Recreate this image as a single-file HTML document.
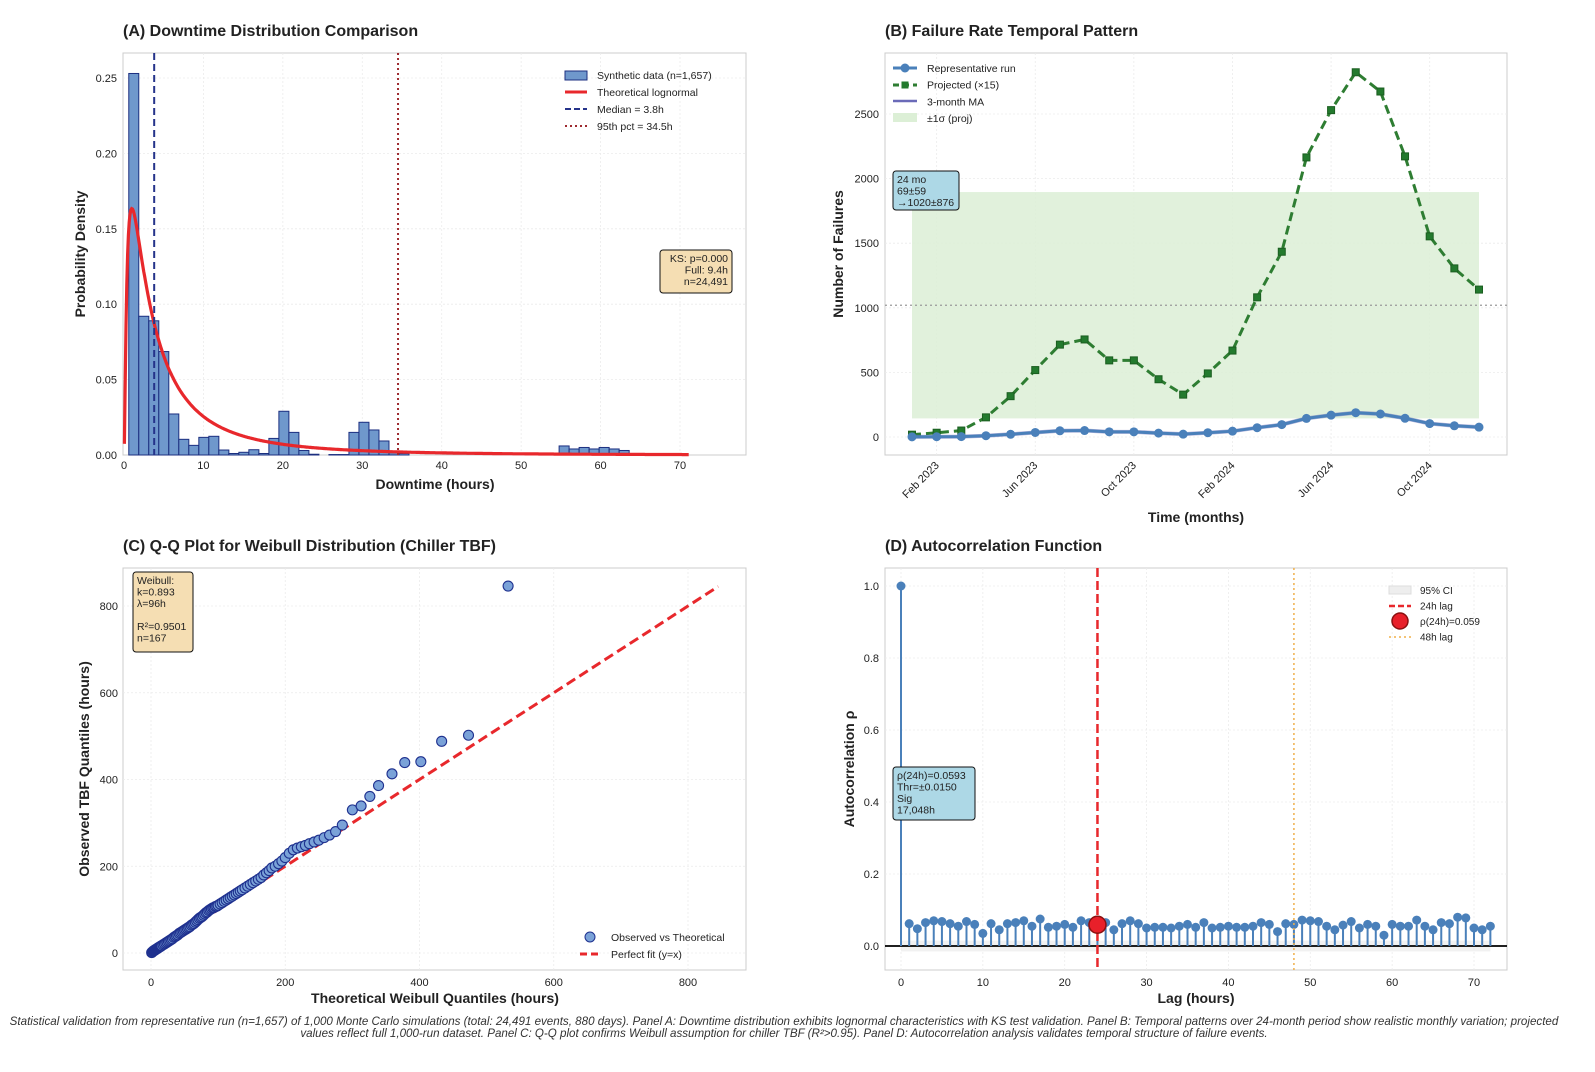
<!DOCTYPE html>
<html><head><meta charset="utf-8"><style>
body{margin:0;background:#fff;width:1595px;height:1067px;overflow:hidden;font-family:"Liberation Sans",sans-serif}
svg text{font-family:"Liberation Sans","DejaVu Sans",sans-serif}
</style></head><body>
<svg id="fig" width="1595" height="1067" viewBox="0 0 1595 1067" xmlns="http://www.w3.org/2000/svg">
<text x="784" y="1025" text-anchor="middle" font-size="11.6" font-style="italic" fill="#333">Statistical validation from representative run (n=1,657) of 1,000 Monte Carlo simulations (total: 24,491 events, 880 days). Panel A: Downtime distribution exhibits lognormal characteristics with KS test validation. Panel B: Temporal patterns over 24-month period show realistic monthly variation; projected</text>
<text x="784" y="1037" text-anchor="middle" font-size="11.6" font-style="italic" fill="#333">values reflect full 1,000-run dataset. Panel C: Q-Q plot confirms Weibull assumption for chiller TBF (R²&gt;0.95). Panel D: Autocorrelation analysis validates temporal structure of failure events.</text>
</svg>
<script>
// ---------- DATA ----------
const histStart = 0.6, histWidth = 1.26;
const histHeights = [0.253,0.092,0.089,0.0686,0.0272,0.0104,0.0064,0.0117,0.0124,0.0033,0.001,0.0018,0.0035,0.001,0.011,0.029,0.015,0.003,0.0005,0,0.0003,0.0003,0.015,0.0217,0.0166,0.0093,0.0015,0.001,0,0,0,0,0,0,0,0,0,0,0,0,0,0,0,0.006,0.004,0.005,0.004,0.005,0.004,0.003];
const lognormMu = 1.43, lognormSigma = 1.2;
const medianHours = 3.8, p95Hours = 34.5;

const monthLabels = ["Feb 2023","Jun 2023","Oct 2023","Feb 2024","Jun 2024","Oct 2024"];
const monthLabelIdx = [1,5,9,13,17,21];
const repRun = [1.2,2.2,3.3,10,21,35,48,50,40,40,30,22,33,45,72,96,144,169,188,178,145,104,87,76];
const projected = [18,33,50,152,316,518,715,755,593,593,447,328,492,669,1081,1434,2164,2530,2823,2674,2172,1553,1305,1141];
const projMean = 1020, projSd = 876;

const qqTheo = [1,2,3,4,5,6,7,8,9,10,11,12,13,14,15,16,18,20,22,24,26,28,30,32,34,36,38,40,42,44,46,48,50,52,54,56,58,60,62,64,66,68,70,72,74,76,78,80,82,84,86,88,90,92,94,96,98,100,103,106,109,112,115,118,121,124,127,130,133,136,140,144,148,152,156,160,164,168,172,176,180,185,190,195,200,206,212,218,224,230,236,243,250,258,266,275,285,300,313,326,339,359,378,402,433,473,532];
const qqObs  = [1,2,4,5,6,7,8,9,10,11,12,13,14,15,16,17,19,21,23,25,27,29,31,33,36,38,40,42,45,47,49,51,53,55,57,59,61,64,66,68,71,74,77,80,82,84,87,90,93,95,98,100,102,104,105,107,108,110,113,116,119,122,125,128,131,134,137,140,143,146,150,154,158,162,166,170,174,180,185,190,196,200,206,212,220,230,238,242,245,248,252,256,260,266,272,280,295,330,339,361,386,413,439,441,488,502,846];

const acfVals = [1.0,0.062,0.048,0.065,0.07,0.068,0.062,0.055,0.068,0.06,0.035,0.062,0.045,0.062,0.065,0.07,0.055,0.075,0.052,0.055,0.06,0.052,0.07,0.065,0.059,0.065,0.045,0.062,0.07,0.062,0.05,0.052,0.052,0.05,0.055,0.06,0.052,0.065,0.05,0.052,0.055,0.052,0.052,0.055,0.065,0.06,0.04,0.062,0.06,0.072,0.07,0.068,0.055,0.045,0.058,0.068,0.05,0.06,0.055,0.03,0.06,0.055,0.055,0.072,0.055,0.045,0.065,0.062,0.08,0.078,0.05,0.045,0.055];
const acfCI = 0.015, lagMark1 = 24, lagMark2 = 48;

// ---------- HELPERS ----------
const NS="http://www.w3.org/2000/svg";
const svg=document.getElementById('fig');
function mk(tag,attrs,parent){const e=document.createElementNS(NS,tag);for(const k in attrs)e.setAttribute(k,attrs[k]);(parent||svg).appendChild(e);return e;}
function txt(s,attrs,parent){const e=mk('text',attrs,parent);e.textContent=s;return e;}
function lin(d0,d1,r0,r1){return v=>r0+(v-d0)/(d1-d0)*(r1-r0);}

function axesFrame(name,x0,y0,x1,y1){
  const g=mk('g',{});
  
  
  const r=mk('rect',{x:x0,y:y0,width:x1-x0,height:y1-y0,fill:'#fff',stroke:'#cccccc','stroke-width':1},g);
  
  
  return g;
}
function gridX(g,xs,X,y0,y1){xs.forEach(v=>{const l=mk('line',{x1:X(v),x2:X(v),y1:y0,y2:y1,stroke:'#ebebeb','stroke-width':0.8,'stroke-dasharray':'2,2'},g);});}
function gridY(g,ys,Y,x0,x1){ys.forEach(v=>{const l=mk('line',{x1:x0,x2:x1,y1:Y(v),y2:Y(v),stroke:'#ebebeb','stroke-width':0.8,'stroke-dasharray':'2,2'},g);});}
function tickLabelsX(g,vals,X,y,fmt){vals.forEach(v=>{const t=txt(fmt(v),{x:X(v),y:y,'text-anchor':'middle','font-size':11,fill:'#222'},g);});}
function tickLabelsY(g,vals,Y,x,fmt){vals.forEach(v=>{const t=txt(fmt(v),{x:x,y:Y(v)+4,'text-anchor':'end','font-size':11,fill:'#222'},g);});}
function title(s,x,y,name){const t=txt(s,{x:x,y:y,'font-size':16,'font-weight':'bold',fill:'#222'});}
function xTitle(s,x,y,name){const t=txt(s,{x:x,y:y,'text-anchor':'middle','font-size':14,'font-weight':'bold',fill:'#222'});}
function yTitle(s,x,y,name){const t=txt(s,{x:x,y:y,'text-anchor':'middle','font-size':14,'font-weight':'bold',fill:'#222',transform:`rotate(-90 ${x} ${y})`});}
function infoBox(name,x,y,w,h,fill,lines,anchor){
  const g=mk('g',{});
  
  
  mk('rect',{x:x,y:y,width:w,height:h,rx:3,fill:fill,stroke:'#111','stroke-width':1},g);
  lines.forEach((s,i)=>{txt(s,{x:anchor==='end'?x+w-4:x+4,y:y+12+i*11.5,'font-size':10.5,fill:'#222','text-anchor':anchor||'start'},g);});
}

// ---------- PANEL A ----------
(function(){
  const x0=123,x1=746,y0=53,y1=455;
  const X=lin(0,70,124,680), Y=lin(0,0.25,455,78);
  const g=axesFrame('panel-a-axes',x0,y0,x1,y1);
  gridX(g,[10,20,30,40,50,60,70],X,y0,y1);
  gridY(g,[0.05,0.1,0.15,0.2,0.25],Y,x0,x1);
  histHeights.forEach((h,i)=>{
    if(h<=0)return;
    const l=histStart+i*histWidth;
    const r=mk('rect',{x:X(l),y:Y(h),width:X(l+histWidth)-X(l),height:Y(0)-Y(h),fill:'#6f98cc',stroke:'#1c2f80','stroke-width':1},g);
    
    
  });
  let d='';
  for(let k=0;k<=700;k++){const xv=0.05+k*0.1015;const pdf=Math.exp(-Math.pow(Math.log(xv)-lognormMu,2)/(2*lognormSigma*lognormSigma))/(xv*lognormSigma*Math.sqrt(2*Math.PI));d+=(k?'L':'M')+X(xv).toFixed(1)+','+Math.max(Y(pdf),y0).toFixed(1);}
  const c=mk('path',{d:d,fill:'none',stroke:'#e8282c','stroke-width':3.2},g);
  
  
  const m=mk('line',{x1:X(medianHours),x2:X(medianHours),y1:y0,y2:y1,stroke:'#25338a','stroke-width':2,'stroke-dasharray':'7,4'},g);
  
  
  const p=mk('line',{x1:X(p95Hours),x2:X(p95Hours),y1:y0,y2:y1,stroke:'#9e2a2f','stroke-width':2,'stroke-dasharray':'2,3'},g);
  
  
  tickLabelsX(g,[0,10,20,30,40,50,60,70],X,469,v=>v);
  tickLabelsY(g,[0,0.05,0.1,0.15,0.2,0.25],Y,117,v=>v.toFixed(2));
  const lg=mk('g',{});
  
  
  mk('rect',{x:565,y:71,width:22,height:9,fill:'#6f98cc',stroke:'#1c2f80'},lg);
  mk('line',{x1:565,x2:587,y1:92,y2:92,stroke:'#e8282c','stroke-width':3},lg);
  mk('line',{x1:565,x2:587,y1:109,y2:109,stroke:'#25338a','stroke-width':2,'stroke-dasharray':'6,3'},lg);
  mk('line',{x1:565,x2:587,y1:126,y2:126,stroke:'#9e2a2f','stroke-width':2,'stroke-dasharray':'2,3'},lg);
  ['Synthetic data (n=1,657)','Theoretical lognormal','Median = 3.8h','95th pct = 34.5h'].forEach((s,i)=>txt(s,{x:597,y:79+i*17,'font-size':10.5,fill:'#222'},lg));
  infoBox('ks-stats-box',660,250,72,43,'#f5deb3',['KS: p=0.000','Full: 9.4h','n=24,491'],'end');
})();
title('(A) Downtime Distribution Comparison',123,36,'panel-a-title');
xTitle('Downtime (hours)',435,489,'panel-a-x-title');
yTitle('Probability Density',85,254,'panel-a-y-title');

// ---------- PANEL B ----------
(function(){
  const x0=885,x1=1507,y0=53,y1=455;
  const X=lin(0,23,912,1479), Y=lin(0,2500,437,114);
  const g=axesFrame('panel-b-axes',x0,y0,x1,y1);
  gridX(g,monthLabelIdx,X,y0,y1);
  gridY(g,[0,500,1000,1500,2000,2500],Y,x0,x1);
  const b=mk('rect',{x:X(0),y:Y(projMean+projSd),width:X(23)-X(0),height:Y(projMean-projSd)-Y(projMean+projSd),fill:'#dcefd6',opacity:0.85},g);
  
  
  const ml=mk('line',{x1:x0,x2:x1,y1:Y(projMean),y2:Y(projMean),stroke:'#999','stroke-width':1.3,'stroke-dasharray':'2,3'},g);
  
  
  const pp=mk('path',{d:projected.map((v,i)=>(i?'L':'M')+X(i)+','+Y(v)).join(''),fill:'none',stroke:'#2e7d32','stroke-width':3,'stroke-dasharray':'9,5'},g);
  
  
  projected.forEach((v,i)=>{const s=mk('rect',{x:X(i)-3.5,y:Y(v)-3.5,width:7,height:7,fill:'#237a2e',stroke:'#1b5e20'},g);});
  const ma=mk('path',{d:repRun.map((v,i)=>(i?'L':'M')+X(i)+','+Y(v)).join(''),fill:'none',stroke:'#6a6ab8','stroke-width':4,opacity:0.5},g);
  
  
  const rp=mk('path',{d:repRun.map((v,i)=>(i?'L':'M')+X(i)+','+Y(v)).join(''),fill:'none',stroke:'#4a80ba','stroke-width':3},g);
  
  
  repRun.forEach((v,i)=>{const c=mk('circle',{cx:X(i),cy:Y(v),r:4.5,fill:'#4a80ba'},g);});
  tickLabelsY(g,[0,500,1000,1500,2000,2500],Y,879,v=>v);
  monthLabelIdx.forEach((idx,k)=>{const t=txt(monthLabels[k],{x:X(idx)+3,y:466,'text-anchor':'end','font-size':11,fill:'#222',transform:`rotate(-45 ${X(idx)+3} 466)`},g);});
  const lg=mk('g',{});
  
  
  mk('line',{x1:893,x2:917,y1:68,y2:68,stroke:'#4a80ba','stroke-width':3},lg);mk('circle',{cx:905,cy:68,r:4.5,fill:'#4a80ba'},lg);
  mk('line',{x1:893,x2:917,y1:85,y2:85,stroke:'#2e7d32','stroke-width':3,'stroke-dasharray':'6,4'},lg);mk('rect',{x:901.5,y:81.5,width:7,height:7,fill:'#237a2e'},lg);
  mk('line',{x1:893,x2:917,y1:101,y2:101,stroke:'#6a6ab8','stroke-width':2.5},lg);
  mk('rect',{x:893,y:113,width:24,height:9,fill:'#dcefd6'},lg);
  ['Representative run','Projected (×15)','3-month MA','±1σ (proj)'].forEach((s,i)=>txt(s,{x:927,y:72+i*16.7,'font-size':10.5,fill:'#222'},lg));
  infoBox('summary-box',893,171,66,39,'#add8e6',['24 mo','69±59','→1020±876']);
})();
title('(B) Failure Rate Temporal Pattern',885,36,'panel-b-title');
xTitle('Time (months)',1196,522,'panel-b-x-title');
yTitle('Number of Failures',843,254,'panel-b-y-title');

// ---------- PANEL C ----------
(function(){
  const x0=123,x1=746,y0=568,y1=970;
  const X=lin(0,800,151,688), Y=lin(0,800,953,606);
  const g=axesFrame('panel-c-axes',x0,y0,x1,y1);
  gridX(g,[0,200,400,600,800],X,y0,y1);
  gridY(g,[0,200,400,600,800],Y,x0,x1);
  const fl=mk('line',{x1:X(0),y1:Y(0),x2:X(845),y2:Y(845),stroke:'#e8282c','stroke-width':3,'stroke-dasharray':'10,5'},g);
  
  
  qqTheo.forEach((t,i)=>{const c=mk('circle',{cx:X(t),cy:Y(qqObs[i]),r:5,fill:'#7aa2d8',stroke:'#1f318f','stroke-width':1.1},g);});
  tickLabelsX(g,[0,200,400,600,800],X,986,v=>v);
  tickLabelsY(g,[0,200,400,600,800],Y,118,v=>v);
  const lg=mk('g',{});
  
  
  mk('circle',{cx:590,cy:937,r:5,fill:'#7aa2d8',stroke:'#1f318f'},lg);
  mk('line',{x1:580,x2:602,y1:954,y2:954,stroke:'#e8282c','stroke-width':3,'stroke-dasharray':'7,4'},lg);
  txt('Observed vs Theoretical',{x:611,y:941,'font-size':10.5,fill:'#222'},lg);
  txt('Perfect fit (y=x)',{x:611,y:958,'font-size':10.5,fill:'#222'},lg);
  infoBox('weibull-box',133,572,60,80,'#f5deb3',['Weibull:','k=0.893','λ=96h','','R²=0.9501','n=167']);
})();
title('(C) Q-Q Plot for Weibull Distribution (Chiller TBF)',123,551,'panel-c-title');
xTitle('Theoretical Weibull Quantiles (hours)',435,1003,'panel-c-x-title');
yTitle('Observed TBF Quantiles (hours)',89,769,'panel-c-y-title');

// ---------- PANEL D ----------
(function(){
  const x0=885,x1=1507,y0=568,y1=970;
  const X=lin(0,70,901,1474), Y=lin(0,1,946,586);
  const g=axesFrame('panel-d-axes',x0,y0,x1,y1);
  gridX(g,[0,10,20,30,40,50,60,70],X,y0,y1);
  gridY(g,[0,0.2,0.4,0.6,0.8,1.0],Y,x0,x1);
  const ci=mk('rect',{x:X(0),y:Y(acfCI),width:X(72)-X(0),height:Y(-acfCI)-Y(acfCI),fill:'#e8e8e8',opacity:0.6},g);
  
  
  const zl=mk('line',{x1:x0,x2:x1,y1:Y(0),y2:Y(0),stroke:'#000','stroke-width':1.8},g);
  
  
  acfVals.forEach((v,i)=>{
    const s=mk('line',{x1:X(i),x2:X(i),y1:Y(0),y2:Y(v),stroke:'#4a80ba','stroke-width':2},g);
    
    
    const c=mk('circle',{cx:X(i),cy:Y(v),r:4.5,fill:'#4a80ba'},g);
    
    
  });
  const l24=mk('line',{x1:X(lagMark1),x2:X(lagMark1),y1:y0,y2:y1,stroke:'#e8282c','stroke-width':2.5,'stroke-dasharray':'9,4'},g);
  
  
  const l48=mk('line',{x1:X(lagMark2),x2:X(lagMark2),y1:y0,y2:y1,stroke:'#f0b04a','stroke-width':1.5,'stroke-dasharray':'2,3'},g);
  
  
  const hc=mk('circle',{cx:X(lagMark1),cy:Y(acfVals[lagMark1]),r:8.5,fill:'#e8202a',stroke:'#8b1010','stroke-width':1.5},g);
  
  
  tickLabelsX(g,[0,10,20,30,40,50,60,70],X,986,v=>v);
  tickLabelsY(g,[0,0.2,0.4,0.6,0.8,1.0],Y,879,v=>v.toFixed(1));
  const lg=mk('g',{});
  
  
  mk('rect',{x:1389,y:586,width:22,height:8,fill:'#eee',stroke:'#ddd'},lg);
  mk('line',{x1:1389,x2:1411,y1:606,y2:606,stroke:'#e8282c','stroke-width':2.5,'stroke-dasharray':'6,3'},lg);
  mk('circle',{cx:1400,cy:621,r:8,fill:'#e8202a',stroke:'#8b1010','stroke-width':1.5},lg);
  mk('line',{x1:1389,x2:1411,y1:637,y2:637,stroke:'#f0b04a','stroke-width':1.5,'stroke-dasharray':'2,3'},lg);
  ['95% CI','24h lag','ρ(24h)=0.059','48h lag'].forEach((s,i)=>txt(s,{x:1420,y:594+i*15.5,'font-size':10,fill:'#222'},lg));
  infoBox('acf-summary-box',893,767,82,53,'#add8e6',['ρ(24h)=0.0593','Thr=±0.0150','Sig','17,048h']);
})();
title('(D) Autocorrelation Function',885,551,'panel-d-title');
xTitle('Lag (hours)',1196,1003,'panel-d-x-title');
yTitle('Autocorrelation ρ',854,769,'panel-d-y-title');
</script>
</body></html>
